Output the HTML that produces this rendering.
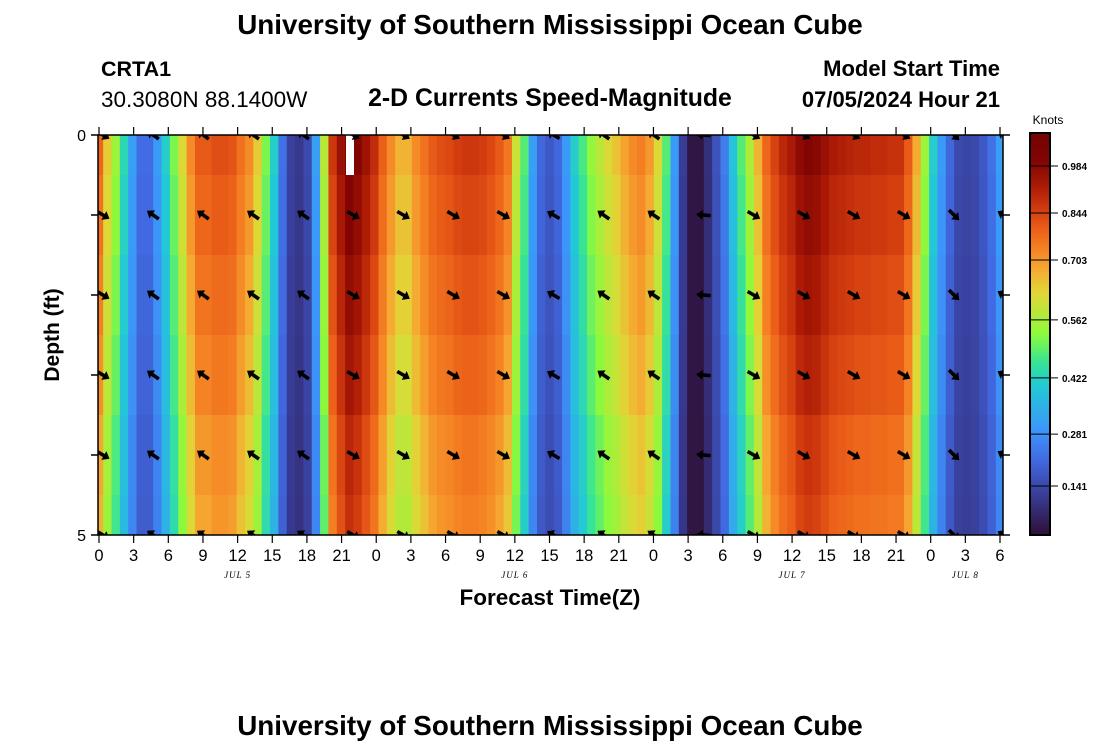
<!DOCTYPE html>
<html><head><meta charset="utf-8"><style>
body{margin:0;background:#fff;width:1100px;height:750px;overflow:hidden}
svg text{font-family:"Liberation Sans",sans-serif}
</style></head><body>
<svg id="chart" width="1100" height="750" xmlns="http://www.w3.org/2000/svg">
<text x="550" y="34" text-anchor="middle" font-size="27.8" font-weight="bold">University of Southern Mississippi Ocean Cube</text>
<text x="101" y="76" font-size="21.5" font-weight="bold">CRTA1</text>
<text x="101" y="107" font-size="22.5">30.3080N  88.1400W</text>
<text x="550" y="106" text-anchor="middle" font-size="24.8" font-weight="bold">2-D Currents Speed-Magnitude</text>
<text x="1000" y="76" text-anchor="end" font-size="22" font-weight="bold">Model Start Time</text>
<text x="1000" y="107" text-anchor="end" font-size="22" font-weight="bold">07/05/2024 Hour 21</text>
<text x="550" y="735" text-anchor="middle" font-size="27.8" font-weight="bold">University of Southern Mississippi Ocean Cube</text>
<defs><clipPath id="pc"><rect x="98" y="135" width="905" height="400"/></clipPath>
<linearGradient id="cbg" x1="0" y1="1" x2="0" y2="0"></linearGradient></defs>
<g id="cells" clip-path="url(#pc)"></g>
<rect x="346" y="135" width="8" height="40" fill="#fff"/>
<g id="arrows" clip-path="url(#pc)"></g>
<g id="axes"></g>
<text transform="translate(59,335) rotate(-90)" text-anchor="middle" font-size="21" font-weight="bold">Depth (ft)</text>
<text x="550" y="605" text-anchor="middle" font-size="22.5" font-weight="bold">Forecast Time(Z)</text>
<text x="1048" y="124" text-anchor="middle" font-size="12">Knots</text>
<rect x="1030" y="133" width="20" height="402" fill="url(#cbg)" stroke="#000" stroke-width="2"/>
<g id="cbticks"></g>
</svg>
<script>
const speeds=[0.76,0.62,0.53,0.42,0.3,0.21,0.21,0.29,0.4,0.5,0.6,0.7,0.78,0.78,0.8,0.8,0.79,0.74,0.7,0.62,0.5,0.4,0.22,0.12,0.1,0.14,0.3,0.56,0.84,0.93,1.0,0.97,0.92,0.86,0.77,0.7,0.65,0.65,0.7,0.74,0.78,0.8,0.81,0.83,0.84,0.84,0.83,0.81,0.78,0.73,0.58,0.47,0.3,0.2,0.17,0.2,0.29,0.4,0.46,0.52,0.56,0.6,0.63,0.67,0.7,0.72,0.68,0.6,0.47,0.29,0.11,0.02,0.02,0.08,0.16,0.24,0.38,0.47,0.55,0.65,0.76,0.82,0.87,0.9,0.95,0.97,0.96,0.93,0.9,0.89,0.88,0.87,0.87,0.86,0.86,0.85,0.85,0.78,0.66,0.53,0.4,0.29,0.2,0.14,0.13,0.14,0.17,0.22,0.3];
const depths=[0,1,2,3,4,5];
const depthFactor=[1.03,1.0,0.97,0.94,0.9,0.88];
const arrowDirs=[30,215,215,215,215,30,30,30,30,210,215,215,185,30,30,30,30,45,210];
const cbTicks=[0.141,0.281,0.422,0.562,0.703,0.844,0.984];
const cbTickFrac=[0.122,0.251,0.391,0.535,0.684,0.801,0.918];
const xTickHours=[0,3,6,9,12,15,18,21,24,27,30,33,36,39,42,45,48,51,54,57,60,63,66,69,72,75,78];
const dateLabels=["JUL 5","JUL 6","JUL 7","JUL 8"];
const dateHours=[12,36,60,75];

const NS="http://www.w3.org/2000/svg";
const X0=99,X1=1000,Y0=135,Y1=535,H=78;
const xH=h=>X0+(X1-X0)*h/H;
const colStep=(X1-X0)/(speeds.length-1);
const xC=i=>X0+i*colStep;
const yD=d=>Y0+(Y1-Y0)*d/5;
const cmF=[0,0.017,0.087,0.186,0.26,0.37,0.43,0.5,0.6,0.66,0.71,0.76,0.81,0.87,0.93,1];
const cmC=[[45,20,60],[48,22,68],[55,55,140],[65,105,225],[60,150,250],[35,200,215],[55,228,150],[140,250,60],[225,215,55],[245,170,50],[245,130,35],[235,95,25],[210,60,15],[170,25,5],[130,5,3],[115,3,3]];
function cmap(t){t=Math.max(0,Math.min(1,t));
 for(let i=0;i<cmF.length-1;i++){if(t<=cmF[i+1]){const u=(t-cmF[i])/(cmF[i+1]-cmF[i]);const a=cmC[i],b=cmC[i+1];
  return `rgb(${Math.round(a[0]+(b[0]-a[0])*u)},${Math.round(a[1]+(b[1]-a[1])*u)},${Math.round(a[2]+(b[2]-a[2])*u)})`;}}
 return 'rgb(115,3,3)';}
function frac(v){const xs=[0].concat(cbTicks,[1.1]);const fs=[0].concat(cbTickFrac,[1]);
for(let i=0;i<xs.length-1;i++){if(v<=xs[i+1]){return fs[i]+(fs[i+1]-fs[i])*(v-xs[i])/(xs[i+1]-xs[i]);}}return 1;}
function mk(tag,attrs,parent){const e=document.createElementNS(NS,tag);for(const k in attrs)e.setAttribute(k,attrs[k]);parent.appendChild(e);return e;}
const cells=document.getElementById('cells');
depths.forEach((d,k)=>{speeds.forEach((s,i)=>{
 const r=mk('rect',{x:xC(i)-colStep/2,y:yD(d)-40,width:colStep+0.6,height:80.5,fill:cmap(frac(s*depthFactor[k]))},cells);
 
 
});});
const arrows=document.getElementById('arrows');
depths.forEach(d=>{arrowDirs.forEach((a,j)=>{
 const cx=xC(j*6)+4,cy=yD(d);
 const g=mk('g',{transform:`translate(${cx},${cy}) rotate(${a})`},arrows);
 
 
 mk('path',{d:'M-7,-1.8 L1,-1.8 L1,-5 L7.5,0 L1,5 L1,1.8 L-7,1.8 Z',fill:'#000'},g);
});});
const ax=document.getElementById('axes');
const fr=mk('rect',{x:98,y:135,width:905,height:400,fill:'none',stroke:'#000','stroke-width':1.5},ax);

depths.forEach(d=>{const y=yD(d);
 mk('line',{x1:91,x2:98,y1:y,y2:y,stroke:'#000','stroke-width':1.5},ax);
 mk('line',{x1:1003,x2:1010,y1:y,y2:y,stroke:'#000','stroke-width':1.5},ax);});
[0,5].forEach(d=>{const t=mk('text',{x:86,y:yD(d)+6,'text-anchor':'end','font-size':16},ax);t.textContent=d;
 });
xTickHours.forEach(h=>{const x=xH(h);
 mk('line',{x1:x,x2:x,y1:127,y2:135,stroke:'#000','stroke-width':1.2},ax);
 mk('line',{x1:x,x2:x,y1:535,y2:543,stroke:'#000','stroke-width':1.2},ax);
 const t=mk('text',{x:x,y:561,'text-anchor':'middle','font-size':16.5},ax);t.textContent=h%24;
 });
dateLabels.forEach((l,i)=>{const t=mk('text',{x:xH(dateHours[i]),y:578,'text-anchor':'middle','font-size':9,'font-style':'italic','letter-spacing':'1'},ax);
 t.style.fontFamily='"Liberation Serif",serif';t.textContent=l;
 });
const grad=document.getElementById('cbg');
for(let i=0;i<=60;i++){mk('stop',{offset:(i/60),'stop-color':cmap(i/60)},grad);}
const cbt=document.getElementById('cbticks');
cbTicks.forEach((v,i)=>{const y=535-402*cbTickFrac[i];
 mk('line',{x1:1030,x2:1058,y1:y,y2:y,stroke:'#000','stroke-width':1},cbt);
 const t=mk('text',{x:1062,y:y+4,'font-size':10,'font-weight':'bold'},cbt);t.textContent=v.toFixed(3);
 });
</script>
</body></html>
